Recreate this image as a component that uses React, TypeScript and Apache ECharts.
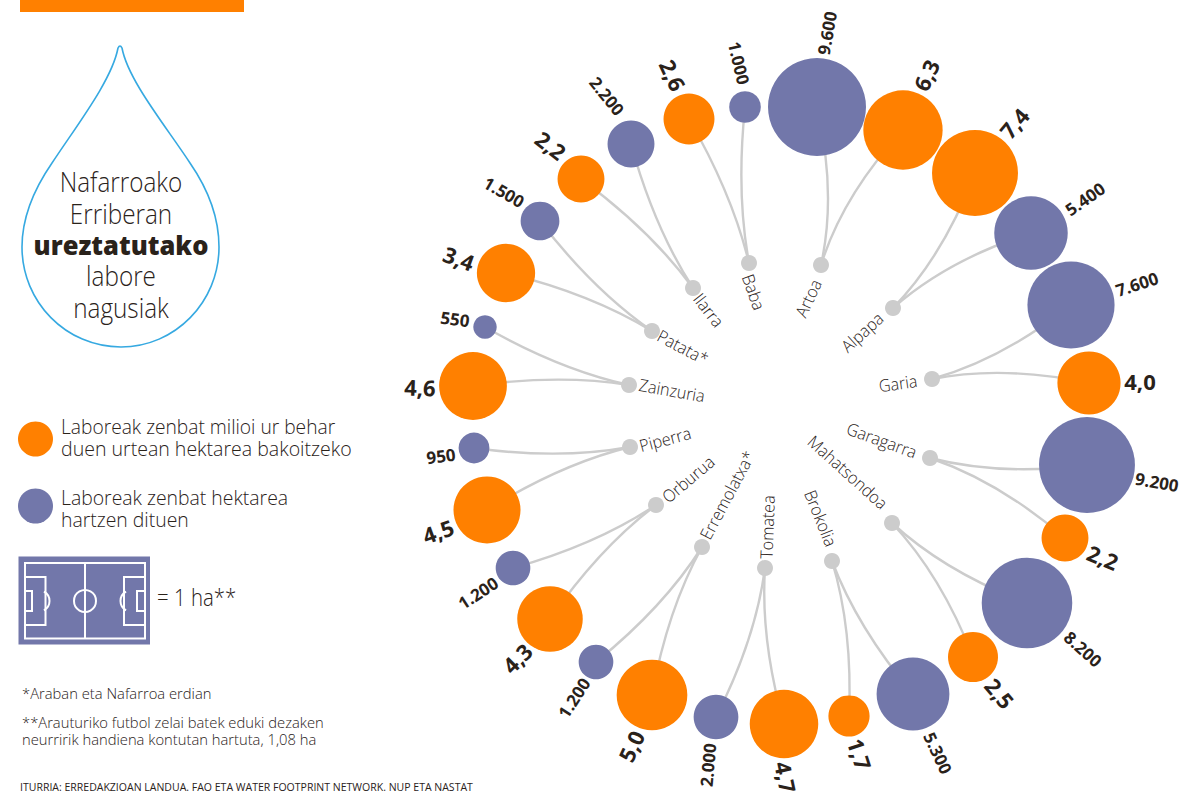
import React, { useEffect, useRef } from "react";
import * as echarts from "echarts";

// ---- values ----
const crops = ["Baba", "Artoa", "Alpapa", "Garia", "Garagarra", "Mahatsondoa", "Brokolia", "Tomatea", "Erremolatxa*", "Orburua", "Piperra", "Zainzuria", "Patata*", "Ilarra"];
const hectares = [1000, 9600, 5400, 7600, 9200, 8200, 5300, 2000, 1200, 1200, 950, 550, 1500, 2200];
const waterMillions = [2.6, 6.3, 7.4, 4.0, 2.2, 2.5, 1.7, 4.7, 5.0, 4.3, 4.5, 4.6, 3.4, 2.2];

// ---- layout (page pixels), same order as crops ----
const nodePos = [[749, 263], [821, 265], [893, 308], [932, 379], [930, 458], [892, 523], [832, 561], [765, 568], [702, 547], [656, 505], [630, 447], [629, 385], [652, 331], [693, 288]];
const haPos = [[745, 107], [817, 107], [1031, 233], [1071, 305], [1087, 465], [1027, 603], [913, 694], [716, 717], [596, 662], [513, 568], [474, 448], [485, 327], [540, 221], [631, 144]];
const waterPos = [[689, 119], [903, 130], [975, 173], [1089, 383], [1065, 538], [973, 657], [849, 716], [784, 724], [652, 695], [550, 619], [487, 510], [473, 386], [506, 273], [581, 179]];
// x, y, clockwise rotation in degrees
const nodeLabelPos = [[754, 292, 70], [808, 298, -65], [862, 332, -42], [898, 383, -8], [882, 440, 20], [848, 472, 42], [821, 518, 68], [767, 527, -88], [727, 495, -62], [688, 479, -40], [665, 439, -15], [672, 390, 10], [683, 347, 28], [709, 310, 52]];
const haLabelPos = [[739, 63, 77], [827, 33, -80], [1085, 199, -35], [1137, 284, -18], [1157, 482, 10], [1083, 649, 42], [938, 753, 65], [708, 765, -85], [574, 698, -57], [478, 593, -33], [441, 456, -7], [455, 319, 8], [504, 192, 30], [607, 96, 51]];
const waterLabelPos = [[673, 75, 65], [926, 75, -65], [1014, 123, -50], [1140, 381, 0], [1103, 557, 22], [1000, 693, 50], [860, 754, 72], [786, 777, 78], [631, 746, -65], [517, 658, -45], [438, 531, -20], [420, 387, 2], [459, 258, 20], [551, 145, 38]];

const ORANGE = "#ff8000";
const BLUE = "#7277aa";
const GREY = "#cccccc";
const INK = "#2a221a";
const FONT = "'Open Sans', sans-serif";
const HA_K = 0.5;
const WATER_K = 15.8;

const fmtHa = (v: number) => String(v).replace(/\B(?=(\d{3})+$)/g, ".");
const fmtWater = (v: number) => v.toFixed(1).replace(".", ",");

function curve(n: number[], b: number[], other: number[]) {
  const cx = b[0] - n[0], cy = b[1] - n[1];
  const d = Math.hypot(cx, cy);
  const chord = Math.atan2(cy, cx);
  const tan = Math.atan2((b[1] + other[1]) / 2 - n[1], (b[0] + other[0]) / 2 - n[0]);
  let t = tan - chord;
  while (t > Math.PI) t -= 2 * Math.PI;
  while (t < -Math.PI) t += 2 * Math.PI;
  const k = 0.34 * d;
  return [
    n[0], n[1], b[0], b[1],
    n[0] + k * Math.cos(chord + 0.85 * t), n[1] + k * Math.sin(chord + 0.85 * t),
    b[0] - k * Math.cos(chord - 0.7 * t), b[1] - k * Math.sin(chord - 0.7 * t),
  ];
}

const linkData = crops.flatMap((_, i) => [curve(nodePos[i], haPos[i], waterPos[i]), curve(nodePos[i], waterPos[i], haPos[i])]);

type Lab = { text: string; pos: number[]; size: number; weight: number; sx: number };
const labels: Lab[] = [
  ...crops.map((c, i) => ({ text: c, pos: nodeLabelPos[i], size: 17, weight: 300, sx: 0.95 })),
  ...hectares.map((v, i) => ({ text: fmtHa(v), pos: haLabelPos[i], size: 17, weight: 700, sx: 1 })),
  ...waterMillions.map((v, i) => ({ text: fmtWater(v), pos: waterLabelPos[i], size: 22, weight: 700, sx: 1 })),
];

const txt = (x: number, y: number, text: string, size: number, weight = 300, align = "left", sx = 1) => ({
  type: "text", x, y, scaleX: sx, silent: true,
  style: { text, fontSize: size, fontWeight: weight, fontFamily: FONT, fill: INK, align, verticalAlign: "middle" },
});
const wl = (shape: any) => ({ type: "line", shape, silent: true, style: { stroke: "#fff", lineWidth: 2 } });
const wr = (x: number, y: number, width: number, height: number) => ({ type: "rect", shape: { x, y, width, height }, silent: true, style: { fill: "none", stroke: "#fff", lineWidth: 2 } });
const warc = (cx: number, cy: number, r: number, a0: number, a1: number) => ({ type: "arc", shape: { cx, cy, r, startAngle: a0, endAngle: a1, clockwise: true }, silent: true, style: { fill: "none", stroke: "#fff", lineWidth: 2 } });

const DROP = "M118,48 Q120,44 122,48 C128,80 165,125 190,163 C210,192 219,220 219,247 C219,302 175,347 121,347 C66,347 22,302 22,247 C22,220 32,192 52,163 C77,125 112,80 118,48 Z";

export default function App() {
  const ref = useRef<HTMLDivElement>(null);
  useEffect(() => {
    document.body.style.margin = "0";
    echarts.graphic.registerShape("drop", echarts.graphic.extendPath(DROP, {}));
    const chart = echarts.init(ref.current!, undefined, { renderer: "svg" });
    chart.setOption({
      animation: false,
      backgroundColor: "#fff",
      grid: { left: 0, right: 0, top: 0, bottom: 0 },
      xAxis: { type: "value", min: 0, max: 1200, show: false },
      yAxis: { type: "value", min: 0, max: 800, inverse: true, show: false },
      series: [
        {
          type: "custom", silent: true, clip: false, data: linkData, z: 1,
          encode: { x: [0, 2], y: [1, 3] },
          renderItem: (_: any, api: any) => {
            const p = (a: number, b: number) => api.coord([api.value(a), api.value(b)]);
            const s = p(0, 1), e = p(2, 3), c1 = p(4, 5), c2 = p(6, 7);
            return {
              type: "bezierCurve",
              shape: { x1: s[0], y1: s[1], x2: e[0], y2: e[1], cpx1: c1[0], cpy1: c1[1], cpx2: c2[0], cpy2: c2[1] },
              style: { fill: "none", stroke: GREY, lineWidth: 2.4 },
            };
          },
        },
        {
          type: "scatter", silent: true, z: 2, symbolSize: 16,
          itemStyle: { color: GREY, opacity: 1 },
          data: nodePos,
        },
        {
          type: "scatter", silent: true, z: 3,
          symbolSize: (v: number[]) => 2 * HA_K * Math.sqrt(v[2]),
          itemStyle: { color: BLUE, opacity: 1 },
          data: hectares.map((v, i) => [haPos[i][0], haPos[i][1], v]),
        },
        {
          type: "scatter", silent: true, z: 4,
          symbolSize: (v: number[]) => 2 * WATER_K * Math.sqrt(v[2]),
          itemStyle: { color: ORANGE, opacity: 1 },
          data: waterMillions.map((v, i) => [waterPos[i][0], waterPos[i][1], v]),
        },
        {
          type: "custom", silent: true, clip: false, z: 5,
          data: labels.map((l) => [l.pos[0], l.pos[1]]),
          encode: { x: 0, y: 1 },
          renderItem: (params: any, api: any) => {
            const l = labels[params.dataIndex];
            const c = api.coord([api.value(0), api.value(1)]);
            return {
              type: "text", x: c[0], y: c[1], scaleX: l.sx, rotation: (-l.pos[2] * Math.PI) / 180,
              style: { text: l.text, fontSize: l.size, fontWeight: l.weight, fontFamily: FONT, fill: INK, align: "center", verticalAlign: "middle" },
            };
          },
        },
      ],
      graphic: [
        { type: "rect", shape: { x: 20, y: 0, width: 224, height: 12 }, silent: true, style: { fill: ORANGE } },
        { type: "drop", x: 0, y: 0, silent: true, style: { fill: "none", stroke: "#36a9e1", lineWidth: 1.6 } },
        txt(121, 182, "Nafarroako", 27, 300, "center", 0.9),
        txt(121, 214, "Erriberan", 27, 300, "center", 0.9),
        txt(121, 245, "ureztatutako", 27, 800, "center", 0.945),
        txt(121, 276, "labore", 27, 300, "center", 0.9),
        txt(121, 308, "nagusiak", 27, 300, "center", 0.9),
        { type: "circle", shape: { cx: 35.5, cy: 439, r: 17.5 }, silent: true, style: { fill: ORANGE } },
        { type: "circle", shape: { cx: 35.5, cy: 506, r: 17.5 }, silent: true, style: { fill: BLUE } },
        txt(61, 426, "Laboreak zenbat milioi ur behar", 20, 300, "left", 0.96),
        txt(61, 448, "duen urtean hektarea bakoitzeko", 20, 300, "left", 0.977),
        txt(61, 497, "Laboreak zenbat hektarea", 20, 300, "left", 0.97),
        txt(61, 519, "hartzen dituen", 20, 300, "left", 0.97),
        { type: "rect", shape: { x: 18.5, y: 556.5, width: 131.5, height: 88 }, silent: true, style: { fill: BLUE } },
        wr(25, 563, 120, 75.5),
        wl({ x1: 85, y1: 563, x2: 85, y2: 638 }),
        { type: "circle", shape: { cx: 85, cy: 601, r: 11 }, silent: true, style: { fill: "none", stroke: "#fff", lineWidth: 2 } },
        wr(25, 577, 20.5, 48),
        wr(25, 591, 7, 20),
        warc(39, 601, 10.5, -Math.PI / 2.9, Math.PI / 2.9),
        wr(124, 577, 21, 48),
        wr(137, 591, 8, 20),
        warc(131, 601, 10.5, Math.PI - Math.PI / 2.9, Math.PI + Math.PI / 2.9),
        txt(157, 597, "= 1 ha**", 24, 300, "left", 0.85),
        txt(22, 693, "*Araban eta Nafarroa erdian", 15, 300, "left", 0.985),
        txt(22, 722, "**Arauturiko futbol zelai batek eduki dezaken", 15, 300, "left", 0.985),
        txt(22, 739, "neurririk handiena kontutan hartuta, 1,08 ha", 15, 300, "left", 0.985),
        txt(20, 786, "ITURRIA: ERREDAKZIOAN LANDUA. FAO ETA WATER FOOTPRINT NETWORK. NUP ETA NASTAT", 11.5, 400, "left", 0.915),
      ],
    });
    return () => chart.dispose();
  }, []);
  return <div ref={ref} style={{ width: 1200, height: 800 }} />;
}
